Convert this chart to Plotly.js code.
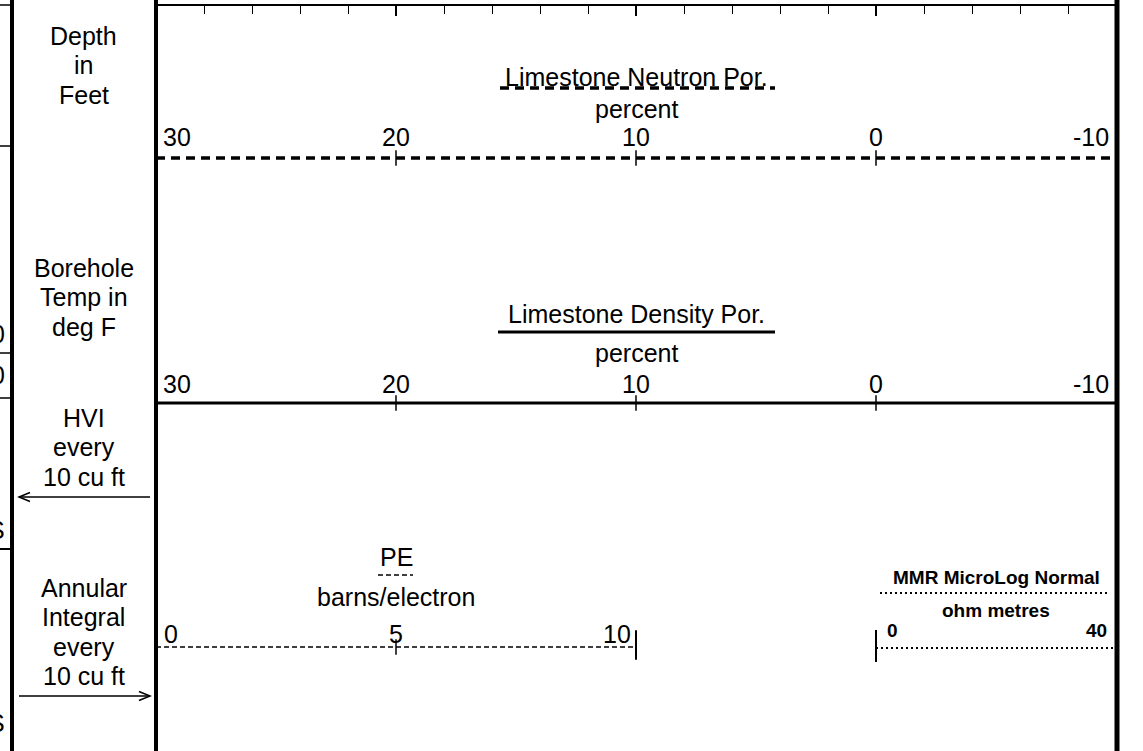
<!DOCTYPE html>
<html>
<head>
<meta charset="utf-8">
<script src="https://cdn.plot.ly/plotly-3.0.1.min.js"></script>
<style>
html,body{margin:0;padding:0;background:#fff;overflow:hidden}
#chart{width:1143px;height:751px}
</style>
</head>
<body>
<div id="chart"></div>
<script>
// ---------------- data ----------------
const porosityRange = [30, -10];
const porosityTicks = [30, 20, 10, 0, -10];
const porosityTickText = ['30', '20', '10', '0', '-10'];
const porosityMajorMarks = [20, 10, 0];
const gridMajorStep = 10;
const gridMinorStep = 2;

const peRange = [0, 10];
const peTicks = [0, 5, 10];
const peTickText = ['0', '5', '10'];
const peMidMarks = [5];

const mmrRange = [0, 40];
const mmrTicks = [0, 40];
const mmrTickText = ['0', '40'];

const neutronTitle = ['Limestone Neutron Por.', 'percent'];
const densityTitle = ['Limestone Density Por.', 'percent'];
const peTitle = ['PE', 'barns/electron'];
const mmrTitle = ['MMR MicroLog Normal', 'ohm metres'];

const depthLabel = ['Depth', 'in', 'Feet'];
const tempLabel = ['Borehole', 'Temp in', 'deg F'];
const hviLabel = ['HVI', 'every', '10 cu ft'];
const annularLabel = ['Annular', 'Integral', 'every', '10 cu ft'];
const cutoffLabels = ['0', '0', 'S', 'S'];

// ---------------- layout geometry (pixels) ----------------
const W = 1143, H = 751;
const FONT = 'Liberation Sans, Arial, Helvetica, sans-serif';
const trackLeft = 156, trackRight = 1116, peRight = 636, mmrLeft = 876;
const colCenter = 83.5, colBorder = 12;
const gridY = 5;
const neutronRow = {title: 76.8, unit: 109, labels: 137.3, line: 158, sample: 88};
const densityRow = {title: 313.5, unit: 352.5, labels: 383.8, line: 403, sample: 332};
const peRow = {title: 557.3, unit: 596.8, labels: 633.5, line: 647, sample: 575};
const mmrRow = {title: 577, unit: 610.3, labels: 630.8, line: 648, sample: 593};
const leftRows = [
  {lines: depthLabel, first: 35.5},
  {lines: tempLabel, first: 267.5},
  {lines: hviLabel, first: 417.5},
  {lines: annularLabel, first: 587.5}
];
const lineStep = 29.6;
const cutoffY = [333.5, 374.5, 530, 722.5];
const stubY = [5, 146, 353, 398, 549];

function fill(arr, v) { return arr.map(() => v); }
function txt(text, xref, x, y, o) {
  return Object.assign({
    text: text, xref: xref, yref: 'y', x: x, y: y,
    xanchor: 'center', yanchor: 'middle', showarrow: false, borderpad: 0,
    font: {family: FONT, size: 25, color: '#000'}
  }, o || {});
}
function tickLabels(vals, texts, xref, y, shiftL, shiftR, size, bold) {
  return vals.map((v, i) => {
    const last = vals.length - 1;
    const anchor = i === 0 ? 'left' : (i === last ? 'right' : 'center');
    const shift = i === 0 ? shiftL : (i === last ? shiftR : 0);
    return txt(bold ? '<b>' + texts[i] + '</b>' : texts[i], xref, v, y,
      {xanchor: anchor, xshift: shift, font: {family: FONT, size: size, color: '#000'}});
  });
}
function tickMarks(xs, xaxis, y, size, width) {
  return {
    type: 'scatter', mode: 'markers', x: xs, y: fill(xs, y), xaxis: xaxis, yaxis: 'y',
    cliponaxis: false, hoverinfo: 'skip',
    marker: {symbol: 'line-ns', size: size, color: '#000', line: {color: '#000', width: width}}
  };
}

// ---------------- traces ----------------
const traces = [
  {type: 'scatter', mode: 'lines', x: porosityRange, y: fill(porosityRange, neutronRow.line),
   xaxis: 'x2', yaxis: 'y', cliponaxis: false, hoverinfo: 'skip',
   line: {color: '#000', width: 3.5, dash: '9px,6px'}},
  tickMarks(porosityMajorMarks, 'x2', neutronRow.line, 11, 1.5),
  {type: 'scatter', mode: 'lines', x: porosityRange, y: fill(porosityRange, densityRow.line),
   xaxis: 'x2', yaxis: 'y', cliponaxis: false, hoverinfo: 'skip',
   line: {color: '#000', width: 3}},
  tickMarks(porosityMajorMarks, 'x2', densityRow.line, 11, 1.5),
  {type: 'scatter', mode: 'lines', x: peRange, y: fill(peRange, peRow.line),
   xaxis: 'x3', yaxis: 'y', cliponaxis: false, hoverinfo: 'skip',
   line: {color: '#000', width: 1.3, dash: '5px,3px'}},
  tickMarks(peMidMarks, 'x3', peRow.line, 11, 1.5),
  tickMarks([peRange[1]], 'x3', peRow.line - 2, 21, 2),
  {type: 'scatter', mode: 'lines', x: mmrRange, y: fill(mmrRange, mmrRow.line),
   xaxis: 'x4', yaxis: 'y', cliponaxis: false, hoverinfo: 'skip',
   line: {color: '#000', width: 2, dash: '2px,3px'}},
  tickMarks([mmrRange[0]], 'x4', mmrRow.line - 2, 23, 2),
  {type: 'scatter', mode: 'markers', x: [porosityRange[0]], y: [-100], xaxis: 'x5', yaxis: 'y',
   hoverinfo: 'skip', marker: {opacity: 0}}
];

// ---------------- annotations ----------------
let annotations = [];
leftRows.forEach(r => r.lines.forEach((t, i) => annotations.push(txt(t, 'x', colCenter, r.first + i * lineStep))));
cutoffLabels.forEach((t, i) => annotations.push(txt(t, 'x', 6, cutoffY[i], {xanchor: 'right'})));

const porMid = (porosityRange[0] + porosityRange[1]) / 2;
annotations.push(txt(neutronTitle[0], 'x2', porMid, neutronRow.title));
annotations.push(txt(neutronTitle[1], 'x2', porMid, neutronRow.unit));
annotations = annotations.concat(tickLabels(porosityTicks, porosityTickText, 'x2', neutronRow.labels, 6, -6, 25));
annotations.push(txt(densityTitle[0], 'x2', porMid, densityRow.title));
annotations.push(txt(densityTitle[1], 'x2', porMid, densityRow.unit));
annotations = annotations.concat(tickLabels(porosityTicks, porosityTickText, 'x2', densityRow.labels, 6, -6, 25));

const peMid = (peRange[0] + peRange[1]) / 2;
annotations.push(txt(peTitle[0], 'x3', peMid, peRow.title));
annotations.push(txt(peTitle[1], 'x3', peMid, peRow.unit));
annotations = annotations.concat(tickLabels(peTicks, peTickText, 'x3', peRow.labels, 7, -4, 25));

const mmrMid = (mmrRange[0] + mmrRange[1]) / 2;
annotations.push(txt('<b>' + mmrTitle[0] + '</b>', 'x4', mmrMid, mmrRow.title, {font: {family: FONT, size: 19, color: '#000'}}));
annotations.push(txt('<b>' + mmrTitle[1] + '</b>', 'x4', mmrMid, mmrRow.unit, {font: {family: FONT, size: 19, color: '#000'}}));
annotations = annotations.concat(tickLabels(mmrTicks, mmrTickText, 'x4', mmrRow.labels, 10, -8, 19, true));

// ---------------- shapes (frame, samples, arrows) ----------------
function ln(x0, y0, x1, y1, w, dash) {
  return {type: 'line', xref: 'x', yref: 'y', x0: x0, y0: y0, x1: x1, y1: y1,
          line: {color: '#000', width: w, dash: dash || 'solid'}};
}
const shapes = [
  ln(colBorder, 0, colBorder, H, 4),
  ln(trackLeft, 0, trackLeft, H, 4),
  ln(trackRight + 1, 0, trackRight + 1, H, 5),
  // curve samples under titles
  ln(500, neutronRow.sample, 775, neutronRow.sample, 3.5, '9px,6px'),
  ln(498, densityRow.sample, 775, densityRow.sample, 3),
  ln(378, peRow.sample, 413, peRow.sample, 1.3, '5px,3px'),
  ln(880, mmrRow.sample, 1107, mmrRow.sample, 2, '2px,3px'),
  // arrows
  ln(19, 497, 150, 497, 1.5),
  {type: 'path', xref: 'x', yref: 'y', path: 'M30,492.5 L19,497 L30,501.5', line: {color: '#000', width: 1.5}},
  ln(19, 696, 150, 696, 1.5),
  {type: 'path', xref: 'x', yref: 'y', path: 'M139,691.5 L150,696 L139,700.5', line: {color: '#000', width: 1.5}}
];
stubY.forEach((y, i) => shapes.push(ln(0, y, colBorder, y, i === 4 ? 2 : 1.5)));

const layout = {
  width: W, height: H,
  margin: {l: 0, r: 0, t: 0, b: 0, pad: 0},
  paper_bgcolor: '#fff', plot_bgcolor: 'rgba(0,0,0,0)',
  showlegend: false, hovermode: false,
  xaxis: {range: [0, W], domain: [0, 1], visible: false, fixedrange: true},
  yaxis: {range: [H, 0], domain: [0, 1], visible: false, fixedrange: true},
  xaxis2: {range: porosityRange, domain: [trackLeft / W, trackRight / W], anchor: 'y', visible: false},
  xaxis3: {range: peRange, domain: [trackLeft / W, peRight / W], anchor: 'y', visible: false},
  xaxis4: {range: mmrRange, domain: [mmrLeft / W, trackRight / W], anchor: 'y', visible: false},
  xaxis5: {
    range: porosityRange, domain: [trackLeft / W, trackRight / W],
    anchor: 'free', position: 1 - gridY / H,
    showline: true, linecolor: '#000', linewidth: 2,
    ticks: 'outside', tickmode: 'linear', tick0: porosityRange[0], dtick: gridMajorStep,
    ticklen: 10, tickwidth: 2, tickcolor: '#000',
    showticklabels: false, showgrid: false, zeroline: false,
    minor: {tick0: porosityRange[0], dtick: gridMinorStep, ticks: 'outside', ticklen: 8,
            tickwidth: 1, tickcolor: '#000', showgrid: false}
  },
  annotations: annotations,
  shapes: shapes
};

Plotly.newPlot('chart', traces, layout, {staticPlot: true, displayModeBar: false});
</script>
</body>
</html>
